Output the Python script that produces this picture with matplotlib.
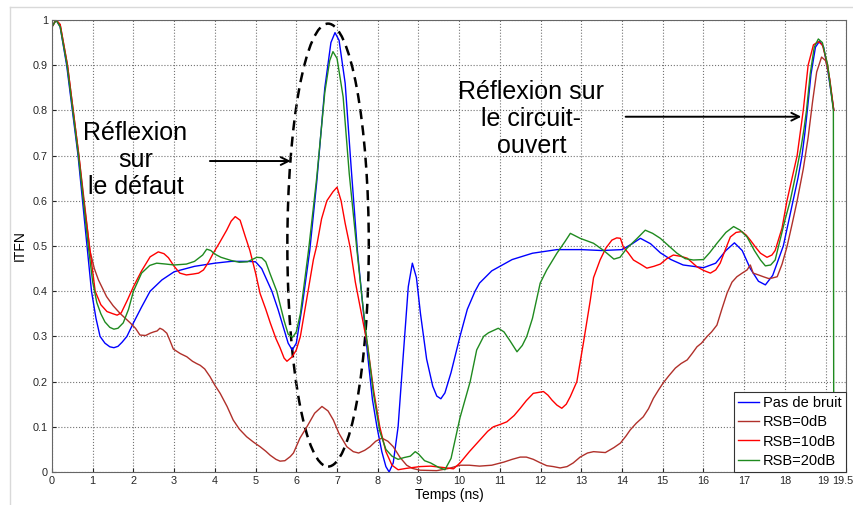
import numpy as np
import matplotlib
matplotlib.use('Agg')
import matplotlib.pyplot as plt
import matplotlib.transforms as mtransforms
from matplotlib.patches import Ellipse
from matplotlib.lines import Line2D

plt.rcParams['font.family'] = ['Liberation Sans', 'DejaVu Sans']

# (temps en ns, ITFN) pour chaque cas
pas_de_bruit = [
    (0, 0.985), (0.1, 1.0), (0.2, 0.985), (0.36, 0.9), (0.5, 0.8), (0.64, 0.7),
    (0.75, 0.6), (0.86, 0.5), (0.97, 0.4), (1.08, 0.34), (1.18, 0.3), (1.3, 0.285),
    (1.42, 0.277), (1.52, 0.275), (1.62, 0.278), (1.72, 0.287), (1.84, 0.3),
    (2.0, 0.33), (2.2, 0.365), (2.41, 0.4), (2.7, 0.425), (3.0, 0.443), (3.5, 0.455),
    (4.0, 0.462), (4.4, 0.466), (4.8, 0.466), (5.0, 0.465), (5.15, 0.45), (5.3, 0.42),
    (5.4, 0.4), (5.55, 0.36), (5.7, 0.315), (5.8, 0.285), (5.9, 0.27), (6.0, 0.285),
    (6.15, 0.37), (6.33, 0.49), (6.5, 0.64), (6.7, 0.85), (6.85, 0.95), (6.95, 0.972),
    (7.05, 0.955), (7.2, 0.86), (7.35, 0.67), (7.5, 0.49), (7.62, 0.38), (7.75, 0.26),
    (7.87, 0.16), (7.98, 0.1), (8.1, 0.045), (8.2, 0.012), (8.28, 0.0), (8.38, 0.02),
    (8.5, 0.1), (8.62, 0.25), (8.75, 0.41), (8.85, 0.462), (8.95, 0.43), (9.05, 0.35),
    (9.2, 0.25), (9.35, 0.19), (9.45, 0.168), (9.55, 0.162), (9.65, 0.175), (9.8, 0.22),
    (10.02, 0.3), (10.2, 0.36), (10.39, 0.4), (10.5, 0.418), (10.8, 0.445), (11.3, 0.47),
    (11.8, 0.484), (12.4, 0.492), (13.0, 0.492), (13.5, 0.49), (14.0, 0.492),
    (14.25, 0.505), (14.45, 0.517), (14.7, 0.505), (14.94, 0.485), (15.2, 0.47),
    (15.5, 0.458), (16.0, 0.452), (16.3, 0.462), (16.55, 0.49), (16.76, 0.507),
    (16.95, 0.49), (17.15, 0.45), (17.35, 0.422), (17.52, 0.414), (17.7, 0.435),
    (17.96, 0.5), (18.2, 0.6), (18.32, 0.65), (18.42, 0.7), (18.49, 0.75),
    (18.55, 0.8), (18.64, 0.88), (18.75, 0.94), (18.85, 0.953), (18.95, 0.94),
    (19.05, 0.89), (19.2, 0.8),
]

rsb_0db = [
    (0, 0.985), (0.1, 1.0), (0.2, 0.99), (0.38, 0.9), (0.52, 0.8), (0.66, 0.7),
    (0.79, 0.6), (0.93, 0.49), (1.04, 0.45), (1.14, 0.425), (1.34, 0.388), (1.5, 0.368),
    (1.67, 0.351), (1.8, 0.34), (1.92, 0.33), (2.05, 0.318), (2.16, 0.303), (2.3, 0.302),
    (2.41, 0.307), (2.5, 0.31), (2.58, 0.312), (2.65, 0.318), (2.72, 0.315), (2.82, 0.307),
    (2.9, 0.29), (2.98, 0.272), (3.15, 0.262), (3.31, 0.255), (3.45, 0.245), (3.55, 0.24),
    (3.64, 0.236), (3.75, 0.228), (3.88, 0.211), (4.0, 0.192), (4.13, 0.174), (4.3, 0.145),
    (4.45, 0.115), (4.6, 0.095), (4.78, 0.078), (4.95, 0.066), (5.11, 0.056), (5.25, 0.046),
    (5.36, 0.037), (5.5, 0.028), (5.6, 0.024), (5.72, 0.025), (5.85, 0.034), (5.93, 0.042),
    (6.09, 0.075), (6.26, 0.1), (6.45, 0.13), (6.63, 0.145), (6.78, 0.135), (6.91, 0.115),
    (7.05, 0.085), (7.24, 0.056), (7.4, 0.045), (7.53, 0.042), (7.68, 0.048), (7.81, 0.056),
    (7.95, 0.068), (8.1, 0.075), (8.25, 0.068), (8.38, 0.056), (8.55, 0.032), (8.71, 0.015),
    (8.85, 0.008), (9.04, 0.004), (9.45, 0.003), (9.75, 0.008), (10.02, 0.015),
    (10.25, 0.015), (10.5, 0.013), (10.8, 0.015), (11.1, 0.022), (11.3, 0.028),
    (11.5, 0.033), (11.65, 0.033), (11.82, 0.028), (12.0, 0.02), (12.15, 0.014),
    (12.31, 0.012), (12.48, 0.009), (12.65, 0.012), (12.8, 0.02), (12.97, 0.033),
    (13.15, 0.042), (13.3, 0.045), (13.45, 0.044), (13.59, 0.043), (13.8, 0.054),
    (13.96, 0.064), (14.1, 0.08), (14.2, 0.093), (14.35, 0.108), (14.52, 0.122),
    (14.65, 0.14), (14.77, 0.163), (14.9, 0.182), (15.01, 0.197), (15.15, 0.213),
    (15.31, 0.23), (15.45, 0.24), (15.6, 0.248), (15.72, 0.262), (15.84, 0.277),
    (15.95, 0.285), (16.09, 0.3), (16.2, 0.31), (16.33, 0.325), (16.45, 0.36),
    (16.58, 0.396), (16.7, 0.42), (16.82, 0.432), (16.95, 0.44), (17.07, 0.447),
    (17.15, 0.458), (17.22, 0.44), (17.35, 0.436), (17.47, 0.432), (17.6, 0.428),
    (17.68, 0.429), (17.81, 0.432), (17.93, 0.46), (18.05, 0.498), (18.18, 0.55),
    (18.3, 0.6), (18.45, 0.67), (18.57, 0.74), (18.68, 0.82), (18.78, 0.885),
    (18.9, 0.918), (19.0, 0.91), (19.1, 0.87), (19.2, 0.8),
]

rsb_10db = [
    (0, 0.985), (0.1, 1.0), (0.2, 0.99), (0.38, 0.9), (0.52, 0.8), (0.66, 0.7),
    (0.78, 0.6), (0.92, 0.5), (1.06, 0.4), (1.2, 0.37), (1.35, 0.355), (1.5, 0.35),
    (1.6, 0.347), (1.7, 0.352), (1.85, 0.38), (2.0, 0.41), (2.2, 0.445), (2.41, 0.476),
    (2.61, 0.487), (2.75, 0.483), (2.86, 0.474), (3.0, 0.455), (3.14, 0.44), (3.3, 0.436),
    (3.47, 0.438), (3.6, 0.44), (3.72, 0.447), (3.85, 0.465), (3.96, 0.484), (4.1, 0.505),
    (4.29, 0.535), (4.4, 0.555), (4.5, 0.565), (4.62, 0.557), (4.75, 0.52), (4.86, 0.49),
    (5.0, 0.44), (5.11, 0.395), (5.25, 0.36), (5.36, 0.33), (5.5, 0.295), (5.6, 0.275),
    (5.7, 0.252), (5.77, 0.245), (5.9, 0.255), (6.0, 0.27), (6.1, 0.3), (6.25, 0.38),
    (6.42, 0.47), (6.5, 0.5), (6.62, 0.56), (6.75, 0.6), (6.9, 0.62), (7.0, 0.63),
    (7.1, 0.6), (7.2, 0.55), (7.32, 0.498), (7.45, 0.42), (7.6, 0.35), (7.75, 0.28),
    (7.9, 0.18), (8.05, 0.1), (8.2, 0.045), (8.35, 0.015), (8.5, 0.005), (8.7, 0.008),
    (9.04, 0.012), (9.3, 0.013), (9.6, 0.01), (9.86, 0.007), (10.02, 0.02), (10.25, 0.045),
    (10.5, 0.07), (10.7, 0.09), (10.84, 0.1), (11.0, 0.105), (11.17, 0.111), (11.35, 0.125),
    (11.5, 0.141), (11.65, 0.158), (11.82, 0.174), (11.95, 0.176), (12.07, 0.178),
    (12.18, 0.17), (12.28, 0.159), (12.4, 0.148), (12.52, 0.141), (12.63, 0.15),
    (12.73, 0.167), (12.89, 0.2), (13.05, 0.285), (13.14, 0.336), (13.22, 0.38),
    (13.3, 0.43), (13.46, 0.469), (13.6, 0.495), (13.75, 0.513), (13.87, 0.518),
    (13.96, 0.517), (14.03, 0.498), (14.15, 0.485), (14.28, 0.469), (14.45, 0.46),
    (14.61, 0.451), (14.78, 0.455), (14.94, 0.46), (15.1, 0.472), (15.26, 0.48),
    (15.45, 0.477), (15.6, 0.473), (15.84, 0.454), (16.0, 0.446), (16.17, 0.44),
    (16.3, 0.447), (16.41, 0.462), (16.55, 0.495), (16.66, 0.52), (16.8, 0.53),
    (16.94, 0.532), (17.05, 0.524), (17.15, 0.513), (17.3, 0.495), (17.4, 0.484),
    (17.56, 0.475), (17.68, 0.48), (17.76, 0.49), (17.93, 0.54), (18.05, 0.6),
    (18.3, 0.7), (18.45, 0.8), (18.57, 0.9), (18.7, 0.945), (18.82, 0.952),
    (18.92, 0.945), (19.05, 0.9), (19.2, 0.8),
]

rsb_20db = [
    (0, 0.985), (0.1, 1.0), (0.2, 0.985), (0.37, 0.9), (0.51, 0.8), (0.65, 0.7),
    (0.77, 0.6), (0.89, 0.5), (1.0, 0.42), (1.1, 0.375), (1.2, 0.35), (1.3, 0.332),
    (1.42, 0.32), (1.52, 0.316), (1.62, 0.318), (1.75, 0.33), (1.88, 0.36), (2.0, 0.4),
    (2.2, 0.44), (2.4, 0.457), (2.57, 0.462), (2.8, 0.46), (3.0, 0.458), (3.3, 0.46),
    (3.5, 0.466), (3.7, 0.48), (3.8, 0.493), (3.9, 0.49), (4.0, 0.482), (4.15, 0.475),
    (4.4, 0.468), (4.6, 0.464), (4.8, 0.465), (5.03, 0.475), (5.15, 0.474), (5.25, 0.465),
    (5.35, 0.44), (5.52, 0.4), (5.7, 0.335), (5.8, 0.305), (5.91, 0.298), (6.0, 0.31),
    (6.1, 0.35), (6.3, 0.49), (6.5, 0.65), (6.7, 0.84), (6.82, 0.91), (6.9, 0.93),
    (7.0, 0.915), (7.15, 0.83), (7.3, 0.66), (7.49, 0.49), (7.62, 0.38), (7.75, 0.28),
    (7.9, 0.17), (8.05, 0.09), (8.2, 0.05), (8.35, 0.035), (8.5, 0.028), (8.65, 0.032),
    (8.8, 0.035), (8.92, 0.045), (9.0, 0.04), (9.15, 0.025), (9.3, 0.02), (9.5, 0.01),
    (9.65, 0.005), (9.8, 0.03), (10.02, 0.12), (10.27, 0.2), (10.43, 0.27), (10.6, 0.3),
    (10.72, 0.308), (10.96, 0.318), (11.1, 0.31), (11.25, 0.29), (11.42, 0.266),
    (11.55, 0.28), (11.66, 0.3), (11.8, 0.34), (11.99, 0.418), (12.15, 0.447),
    (12.4, 0.484), (12.6, 0.51), (12.73, 0.528), (12.97, 0.517), (13.3, 0.506),
    (13.55, 0.49), (13.8, 0.471), (13.95, 0.475), (14.12, 0.495), (14.35, 0.515),
    (14.57, 0.535), (14.75, 0.528), (14.94, 0.517), (15.15, 0.5), (15.35, 0.484),
    (15.55, 0.472), (15.75, 0.469), (16.0, 0.47), (16.15, 0.485), (16.33, 0.506),
    (16.55, 0.53), (16.74, 0.543), (16.9, 0.535), (17.07, 0.52), (17.25, 0.49),
    (17.4, 0.469), (17.52, 0.456), (17.65, 0.458), (17.76, 0.469), (18.0, 0.557),
    (18.13, 0.6), (18.27, 0.66), (18.4, 0.72), (18.47, 0.76), (18.53, 0.8),
    (18.62, 0.88), (18.72, 0.94), (18.82, 0.958), (18.92, 0.95), (19.05, 0.9),
    (19.19, 0.8), (19.2, 0.0),
]

series = [
    ('Pas de bruit', pas_de_bruit, '#0000ff'),
    ('RSB=0dB', rsb_0db, '#b0302a'),
    ('RSB=10dB', rsb_10db, '#ff0000'),
    ('RSB=20dB', rsb_20db, '#1f8a1f'),
]

xticks = list(range(0, 20)) + [19.5]
yticks = np.round(np.arange(0, 1.01, 0.1), 1)

fig = plt.figure(figsize=(8.54, 5.05), dpi=100)
ax = fig.add_axes([52 / 854, 1 - 472 / 505, 794 / 854, 452 / 505])

for name, pts, col in series:
    t, v = np.array(pts).T
    ax.plot(t, v, color=col, lw=1.0, label=name)

ax.set_xlim(0, 19.5)
ax.set_ylim(0, 1)
ax.set_xticks(xticks)
ax.set_xticklabels([('%g' % x) for x in xticks])
ax.set_yticks(yticks)
ax.set_yticklabels([('%g' % y) for y in yticks])
ax.tick_params(direction='in', labelsize=7.8, length=3, colors='0.15', pad=3)
ax.grid(True, linestyle=':', color='0.45', lw=0.8)
for s in ax.spines.values():
    s.set_color('0.4')
ax.set_xlabel('Temps (ns)', fontsize=10, labelpad=1)
ax.set_ylabel('ITFN', fontsize=10, labelpad=4)

# 19 décalé un peu à gauche, 19.5 calé à droite pour rester dans la figure
lbl19 = ax.get_xticklabels()[-2]
lbl19.set_transform(lbl19.get_transform() +
                    mtransforms.ScaledTranslation(-2 / 100, 0, fig.dpi_scale_trans))
last = ax.get_xticklabels()[-1]
last.set_horizontalalignment('right')
last.set_transform(last.get_transform() +
                   mtransforms.ScaledTranslation(7.5 / 100, 0, fig.dpi_scale_trans))

# ellipse pointillée autour du pic de défaut
ax.add_patch(Ellipse((6.78, 0.502), 2.0, 0.98, fill=False, ec='black', lw=1.8,
                     linestyle=(0, (4, 2.5))))

ax.text(2.05, 0.69, 'Réflexion\nsur\nle défaut', fontsize=18, ha='center', va='center',
        linespacing=1.15)
ax.annotate('', xy=(5.93, 0.688), xytext=(3.81, 0.688),
            arrowprops=dict(arrowstyle='->', color='black', lw=1.4, mutation_scale=14))

ax.text(11.77, 0.781, 'Réflexion sur\nle circuit-\nouvert', fontsize=18, ha='center',
        va='center', linespacing=1.15)
ax.annotate('', xy=(18.47, 0.786), xytext=(14.02, 0.786),
            arrowprops=dict(arrowstyle='->', color='black', lw=1.4, mutation_scale=14))

leg = ax.legend(loc='lower right', fontsize=10.5, borderaxespad=0, fancybox=False,
                framealpha=1, edgecolor='0.2', handlelength=1.45, handletextpad=0.25,
                labelspacing=0.35, borderpad=0.3)
leg.get_frame().set_linewidth(0.8)

# cadre gris clair autour de l'image
fig.add_artist(Line2D([10 / 854, 1], [1 - 7 / 505, 1 - 7 / 505], color='0.85', lw=1))
fig.add_artist(Line2D([10 / 854, 10 / 854], [0, 1 - 7 / 505], color='0.85', lw=1))

fig.savefig('out.png', dpi=100)
